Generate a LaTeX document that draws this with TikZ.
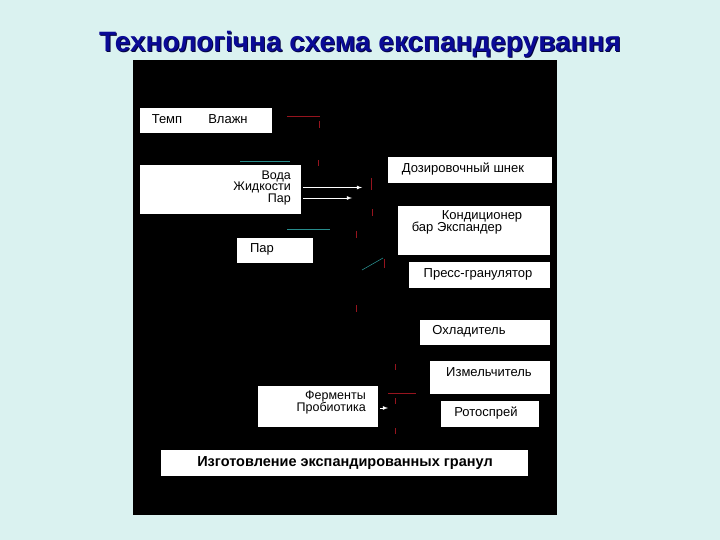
\documentclass[tikz,border=0pt]{standalone}
\usepackage{fontspec}
\setmainfont{Liberation Sans}
\usetikzlibrary{arrows}
\definecolor{slidebg}{RGB}{218,242,240}
\definecolor{titleblue}{RGB}{10,10,150}
\definecolor{pipered}{RGB}{150,20,30}
\definecolor{pipeteal}{RGB}{40,140,140}

\begin{document}
\begin{tikzpicture}[x=1pt,y=-1pt,>=latex,
  box/.style={inner sep=0pt,font=\fontsize{13}{14}\selectfont},
  tight/.style={box,font=\fontsize{12.5}{13}\selectfont,text height=8.5pt,text depth=1.5pt},
  pipe/.style={pipered,line width=1pt},
  feed/.style={->,white,line width=0.8pt}]
  \fill[slidebg] (0,0) rectangle (720,540);
  \useasboundingbox (0,0) rectangle (720,540);
  \node[titleblue!40!black,font=\fontsize{28}{30}\bfseries\selectfont] at (361,45) {Технологічна схема експандерування};
  \node[titleblue,font=\fontsize{28}{30}\bfseries\selectfont] (title) at (360,44) {Технологічна схема експандерування};
  \fill[black] (133,60) rectangle (557,515);
  % label boxes
  \fill[white] (140,108) rectangle (272,133);
  \node[box] (temp) at (167,119) {Темп};
  \node[box] (vlazh) at (228,119) {Влажн};
  \fill[white] (140,165) rectangle (301,214);
  \node[tight,anchor=east] (voda) at (291,176) {Вода};
  \node[tight,anchor=east] (zhid) at (291,187.5) {Жидкости};
  \node[tight,anchor=east] (par1) at (291,199) {Пар};
  \fill[white] (388,157) rectangle (552,183);
  \node[box] (shnek) at (463,169) {Дозировочный шнек};
  \fill[white] (398,206) rectangle (550,255);
  \node[box] (kond) at (482,216) {Кондиционер};
  \node[box] (exp) at (457,228) {бар Экспандер};
  \fill[white] (237,238) rectangle (313,263);
  \node[box] (par2) at (262,249) {Пар};
  \fill[white] (409,262) rectangle (550,288);
  \node[box] (press) at (478,274) {Пресс-гранулятор};
  \fill[white] (420,320) rectangle (550,345);
  \node[box] (cool) at (469,331) {Охладитель};
  \fill[white] (430,361) rectangle (550,394);
  \node[box] (mill) at (489,372) {Измельчитель};
  \fill[white] (258,386) rectangle (378,427);
  \node[tight,anchor=east] (ferm) at (366,396) {Ферменты};
  \node[tight,anchor=east] (prob) at (366,408) {Пробиотика};
  \fill[white] (441,401) rectangle (539,427);
  \node[box] (roto) at (486,413) {Ротоспрей};
  \fill[white] (161,450) rectangle (528,476);
  \node[box,font=\fontsize{14.5}{16}\bfseries\selectfont] (final) at (345,463) {Изготовление экспандированных гранул};
  % feed lines
  \coordinate (zhidend) at (362,187.5);
  \coordinate (parend) at (352,198);
  \draw[feed] (zhid.east) ++(12,0) -- (zhidend);
  \draw[feed] (par1.east) ++(12,-1) -- (parend);
  \draw[feed] (prob.east) ++(14,0) -- ++(8,0);
  % faint apparatus lines
  \draw[pipe] (287,117) -- (320,117);
  \draw[pipe] (319,121) -- (319,128);
  \draw[pipe] (318,160) -- (318,166);
  \draw[pipe] (371,178) -- (371,190);
  \draw[pipe] (372,209) -- (372,216);
  \draw[pipe] (356,231) -- (356,238);
  \draw[pipe] (384,259) -- (384,268);
  \draw[pipe] (356,305) -- (356,312);
  \draw[pipe] (395,364) -- (395,370);
  \draw[pipe] (388,393) -- (416,393);
  \draw[pipe] (395,398) -- (395,404);
  \draw[pipe] (395,428) -- (395,434);
  \draw[pipeteal,line width=0.8pt] (240,161) -- (290,161);
  \draw[pipeteal,line width=0.8pt] (287,229) -- (330,229);
  \draw[pipeteal,line width=0.6pt] (362,270) -- (383,258);
\end{tikzpicture}
\end{document}
